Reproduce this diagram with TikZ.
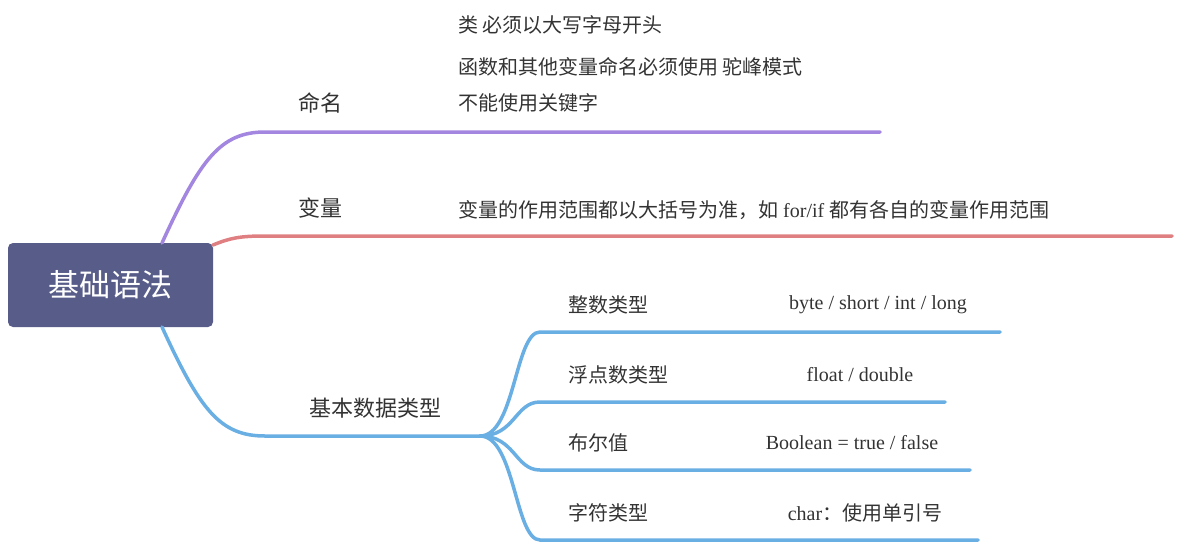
\documentclass[tikz,border=0pt]{standalone}
\usepackage{fontspec}
\setmainfont{Liberation Serif}
\newfontfamily\cjk{Noto Sans CJK SC}
\definecolor{cpur}{HTML}{A386E0}
\definecolor{cred}{HTML}{E07F82}
\definecolor{cblu}{HTML}{6AAFE3}
\definecolor{croot}{HTML}{575C89}
\definecolor{ctxt}{HTML}{333333}
\begin{document}
\begin{tikzpicture}[x=1pt,y=-1pt,
  br/.style={line width=3.5pt,line cap=round},
  lab/.style={text=ctxt,font=\cjk\fontsize{22}{24}\selectfont,inner sep=0pt},
  leaf/.style={text=ctxt,font=\fontsize{20}{22}\selectfont,inner sep=0pt,anchor=west}]
\useasboundingbox (0,0) rectangle (1182,544);
\node[fill=croot,rounded corners=5pt,minimum width=205pt,minimum height=84pt,text=white,font=\cjk\fontsize{31}{33}\selectfont] (root) at (110.5,285) {基础语法};
\coordinate (a0) at (162,243);
\coordinate (a1) at (265,132);
\coordinate (a2) at (880,132);
\draw[br,cpur] (a0) .. controls (200,160) and (220,132) .. (a1) -- (a2);
\coordinate (b0) at (213,245);
\coordinate (b1) at (265,236);
\coordinate (b2) at (1172,236);
\draw[br,cred] (b0) .. controls (230,238) and (240,236) .. (b1) -- (b2);
\coordinate (c0) at (162,327);
\coordinate (c1) at (265,436);
\coordinate (c2) at (480,436);
\draw[br,cblu] (c0) .. controls (200,410) and (220,436) .. (c1) -- (c2);
\node[lab] (n1) at (320,103) {命名};
\node[lab] (n2) at (320,208) {变量};
\node[lab] (n3) at (375,408) {基本数据类型};
\node[leaf,font=\cjk\fontsize{20}{22}\selectfont] (l1) at (458,25) {类 必须以大写字母开头};
\node[leaf,font=\cjk\fontsize{20}{22}\selectfont] (l2) at (458,67) {函数和其他变量命名必须使用 驼峰模式};
\node[leaf,font=\cjk\fontsize{20}{22}\selectfont] (l3) at (458,103) {不能使用关键字};
\node[leaf] (l4) at (458,210) {{\cjk 变量的作用范围都以大括号为准，如} for/if {\cjk 都有各自的变量作用范围}};
\foreach \y/\e/\t/\v/\vx in {332/1000/整数类型/{byte / short / int / long}/878,402/945/浮点数类型/{float / double}/860,470/970/布尔值/{Boolean = true / false}/852,540/978/字符类型/{char{\cjk ：使用单引号}}/865}{
  \coordinate (s\y) at (540,\y);
  \coordinate (e\y) at (\e,\y);
  \draw[br,cblu] (c2) .. controls (515,436) and (515,\y) .. (s\y) -- (e\y);
  \node[lab,anchor=west,font=\cjk\fontsize{20}{22}\selectfont] (t\y) at (568,\y-27) {\t};
  \node[leaf,anchor=center] (v\y) at (\vx,\y-27) {\v};
}
\end{tikzpicture}
\end{document}
